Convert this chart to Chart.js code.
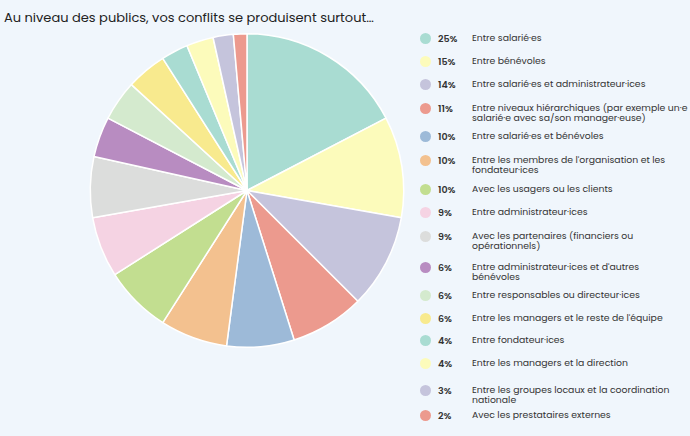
<!DOCTYPE html><html><head><meta charset="utf-8">
<script src="https://cdn.jsdelivr.net/npm/chart.js@4"></script>
<style>
body{margin:0;width:690px;height:436px;background:#f0f6fc;font-family:"Poppins","Open Sans",sans-serif;overflow:hidden;position:relative}
#title{position:absolute;left:4px;top:8px;font-size:13px;color:#222}
#cw{position:absolute;left:82px;top:28px;width:330px;height:325px}
#leg{position:absolute;left:420px;top:31px;width:270px;font-size:9.3px;color:#333}
.r{display:flex;align-items:flex-start;margin-bottom:0}
.d{width:11px;height:11px;border-radius:50%;margin-top:2px;flex:none}
.p{width:34px;padding-left:7px;font-weight:600;flex:none;font-size:9.5px;line-height:15px}
.t{line-height:10px;padding-top:2px;white-space:nowrap}
</style></head><body>
<div id="title">Au niveau des publics, vos conflits se produisent surtout…</div>
<div id="cw"><canvas id="c"></canvas></div>
<div id="leg"></div>
<script>
const labels=["Entre salarié·es","Entre bénévoles","Entre salarié·es et administrateur·ices","Entre niveaux hiérarchiques (par exemple un·e<br>salarié·e avec sa/son manager·euse)","Entre salarié·es et bénévoles","Entre les membres de l'organisation et les<br>fondateur·ices","Avec les usagers ou les clients","Entre administrateur·ices","Avec les partenaires (financiers ou<br>opérationnels)","Entre administrateur·ices et d'autres<br>bénévoles","Entre responsables ou directeur·ices","Entre les managers et le reste de l'équipe","Entre fondateur·ices","Entre les managers et la direction","Entre les groupes locaux et la coordination<br>nationale","Avec les prestataires externes"];
const values=[25,15,14,11,10,10,10,9,9,6,6,6,4,4,3,2];
const colors=["#a9dcd2","#fcfbbb","#c5c4dc","#ec9a8e","#9dbad8","#f3c18f","#c2de90","#f5d3e3","#dcdddc","#b88cc1","#d4eace","#f8ea8e","#a9dcd2","#fcfbbb","#c5c4dc","#ec9a8e"];
const gaps=[23,23,24,28,24,29,23,24,31,28,23,22,23,27,25,23];
const leg=document.getElementById('leg');
labels.forEach((l,i)=>{const r=document.createElement('div');r.className='r';r.style.height=gaps[i]+'px';
r.innerHTML=`<div class="d" style="background:${colors[i]}"></div><div class="p">${values[i]}%</div><div class="t">${l}</div>`;leg.appendChild(r);});
new Chart(document.getElementById('c'),{type:'pie',data:{labels:labels,datasets:[{data:values,backgroundColor:colors,borderColor:'#ffffff',borderWidth:1.5}]},
options:{responsive:true,maintainAspectRatio:false,animation:false,layout:{padding:5},plugins:{legend:{display:false},tooltip:{enabled:false}}}});
</script></body></html>
